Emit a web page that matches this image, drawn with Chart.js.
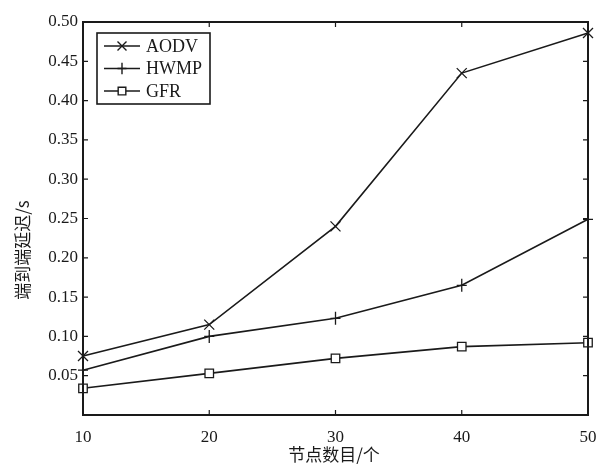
<!DOCTYPE html>
<html>
<head>
<meta charset="utf-8">
<script src="https://cdn.jsdelivr.net/npm/chart.js@4.4.0/dist/chart.umd.min.js"></script>
<style>
html,body{margin:0;padding:0;background:#fff;}
#wrap{width:606px;height:465px;position:relative;}
</style>
</head>
<body>
<div id="wrap"><canvas id="c" width="606" height="465"></canvas></div>
<script>
const nodeCounts = [10, 20, 30, 40, 50];
const aodv = [0.075, 0.115, 0.240, 0.435, 0.486];
const hwmp = [0.057, 0.100, 0.123, 0.165, 0.249];
const gfr  = [0.034, 0.053, 0.072, 0.087, 0.092];
const seriesLabels = ['AODV', 'HWMP', 'GFR'];
const yTickValues = [0.05, 0.10, 0.15, 0.20, 0.25, 0.30, 0.35, 0.40, 0.45, 0.50];
const xTickValues = [10, 20, 30, 40, 50];
const xTitle = '节点数目/个';
const yTitle = '端到端延迟/s';

const serif = '"Liberation Serif", "DejaVu Serif", serif';
const cjk = '"Noto Sans CJK SC", sans-serif';
const ink = '#1a1a1a';

function pts(arr){ return nodeCounts.map((x,i)=>({x:x,y:arr[i]})); }

const styles = ['crossRot','cross','rect'];

function drawMarker(ctx, style, x, y, r){
  ctx.beginPath();
  if(style==='crossRot'){
    ctx.moveTo(x-r,y-r);ctx.lineTo(x+r,y+r);
    ctx.moveTo(x+r,y-r);ctx.lineTo(x-r,y+r);
    ctx.stroke();
  } else if(style==='cross'){
    ctx.moveTo(x-r,y);ctx.lineTo(x+r,y);
    ctx.moveTo(x,y-r*1.3);ctx.lineTo(x,y+r*1.3);
    ctx.stroke();
  } else {
    ctx.fillStyle='#fff';
    ctx.rect(x-r*0.85,y-r*0.85,r*1.7,r*1.7);
    ctx.fill();ctx.stroke();
  }
}

const framePlugin = {
  id:'frame',
  afterDraw(chart){
    const ctx = chart.ctx, a = chart.chartArea;
    const xs = chart.scales.x, ys = chart.scales.y;
    ctx.save();
    ctx.strokeStyle = ink;
    ctx.lineWidth = 2;
    ctx.strokeRect(a.left, a.top, a.right-a.left, a.bottom-a.top);
    ctx.lineWidth = 1.2;
    const tl = 5;
    ctx.beginPath();
    xTickValues.forEach(v=>{
      const px = xs.getPixelForValue(v);
      ctx.moveTo(px,a.bottom);ctx.lineTo(px,a.bottom-tl);
      ctx.moveTo(px,a.top);ctx.lineTo(px,a.top+tl);
    });
    yTickValues.forEach(v=>{
      const py = ys.getPixelForValue(v);
      ctx.moveTo(a.left,py);ctx.lineTo(a.left+tl,py);
      ctx.moveTo(a.right,py);ctx.lineTo(a.right-tl,py);
    });
    ctx.stroke();

    // legend
    const lx = a.left+14, ly = a.top+11, lw = 113, lh = 71;
    ctx.lineWidth = 1.6;
    ctx.fillStyle='#fff';
    ctx.fillRect(lx,ly,lw,lh);
    ctx.strokeRect(lx,ly,lw,lh);
    ctx.font = '18px '+serif;
    ctx.textBaseline='middle';
    ctx.textAlign='left';
    chart.data.datasets.forEach((ds,i)=>{
      const cy = ly + 13 + i*22.5;
      ctx.strokeStyle = ink; ctx.lineWidth = 1.4;
      ctx.beginPath(); ctx.moveTo(lx+7,cy); ctx.lineTo(lx+43,cy); ctx.stroke();
      drawMarker(ctx, styles[i], lx+25, cy, 4.5);
      ctx.fillStyle = ink;
      ctx.fillText(ds.label, lx+49, cy+1);
    });

    // axis titles
    ctx.fillStyle = ink;
    ctx.font = '17px '+cjk;
    ctx.textAlign='center';
    ctx.textBaseline='middle';
    ctx.fillText(xTitle, 334, 455);
    ctx.save();
    ctx.translate(23, 250);
    ctx.rotate(-Math.PI/2);
    ctx.fillText(yTitle, 0, 0);
    ctx.restore();
    ctx.restore();
  }
};

const markerPlugin = {
  id:'markers',
  afterDatasetsDraw(chart){
    const ctx = chart.ctx;
    ctx.save();
    ctx.strokeStyle = ink; ctx.lineWidth = 1.3;
    chart.data.datasets.forEach((ds,i)=>{
      const meta = chart.getDatasetMeta(i);
      meta.data.forEach(el=>{ drawMarker(ctx, styles[i], el.x, el.y, 5); });
    });
    ctx.restore();
  }
};

new Chart(document.getElementById('c'), {
  type:'line',
  data:{
    datasets:[
      {label:seriesLabels[0], data:pts(aodv)},
      {label:seriesLabels[1], data:pts(hwmp)},
      {label:seriesLabels[2], data:pts(gfr)}
    ].map(d=>Object.assign(d,{borderColor:ink,borderWidth:1.6,pointRadius:0,fill:false,tension:0,clip:false}))
  },
  options:{
    responsive:false,
    animation:false,
    devicePixelRatio:1,
    layout:{padding:{left:0,right:18,top:22,bottom:0}},
    plugins:{legend:{display:false},tooltip:{enabled:false}},
    scales:{
      x:{
        type:'linear', min:10, max:50,
        afterBuildTicks(s){ s.ticks = xTickValues.map(v=>({value:v})); },
        afterFit(s){ s.height = 50; s.paddingLeft = 0; s.paddingRight = 0; },
        grid:{display:false, drawTicks:false},
        border:{display:false},
        ticks:{color:ink, font:{family:serif,size:17}, padding:12, maxRotation:0},
        title:{display:false}
      },
      y:{
        type:'linear', min:0, max:0.5,
        afterBuildTicks(s){ s.ticks = yTickValues.map(v=>({value:v})); },
        afterFit(s){ s.width = 83; s.paddingTop = 0; s.paddingBottom = 0; },
        grid:{display:false, drawTicks:false},
        border:{display:false},
        ticks:{color:ink, font:{family:serif,size:17}, padding:5, callback:v=>v.toFixed(2)},
        title:{display:false}
      }
    }
  },
  plugins:[markerPlugin, framePlugin]
});
</script>
</body>
</html>
